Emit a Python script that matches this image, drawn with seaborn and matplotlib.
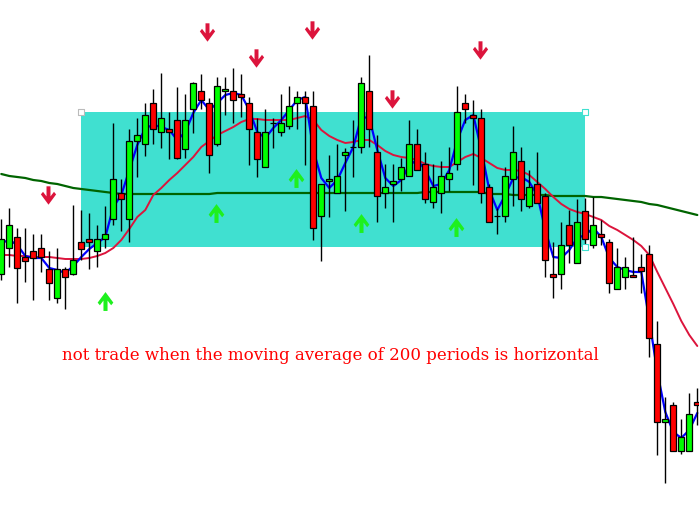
import numpy as np
import pandas as pd
import matplotlib
matplotlib.use("Agg")
import matplotlib.pyplot as plt
import seaborn as sns
from matplotlib.path import Path
from matplotlib.markers import MarkerStyle
from matplotlib.patches import Rectangle

# ---------------- data (price units) ----------------
opens = [238, 264, 275, 255, 261, 264, 243, 214, 243, 238, 270, 273, 261, 273, 293, 319,
         293, 371, 368, 409, 380, 383, 392, 363, 403, 421, 409, 368, 421, 421, 418, 409,
         380, 345, 389, 380, 386, 409, 415, 406, 296, 331, 319, 357, 365, 365, 421, 360,
         319, 328, 333, 336, 368, 348, 310, 319, 333, 348, 409, 397, 394, 325, 296, 296,
         333, 351, 306, 328, 316, 238, 238, 287, 249, 301, 267, 278, 270, 223, 235, 237,
         245, 258, 168, 90, 107, 61, 61, 110]
highs = [293, 304, 284, 284, 278, 278, 261, 264, 245, 307, 302, 299, 287, 306, 389, 333,
         383, 394, 409, 423, 439, 400, 425, 418, 430, 438, 414, 435, 435, 444, 438, 415,
         394, 403, 394, 418, 426, 421, 421, 421, 328, 357, 368, 364, 392, 435, 457, 377,
         348, 348, 354, 392, 383, 360, 348, 351, 365, 426, 418, 412, 403, 328, 304, 345,
         386, 365, 342, 360, 319, 270, 290, 302, 313, 314, 315, 292, 273, 264, 255, 275,
         258, 267, 191, 115, 110, 93, 119, 124]
lows = [232, 245, 209, 230, 212, 240, 212, 209, 203, 237, 252, 243, 245, 264, 287, 281,
        270, 335, 356, 368, 364, 353, 353, 354, 379, 403, 339, 366, 397, 389, 395, 347,
        335, 345, 364, 376, 383, 383, 347, 272, 251, 295, 319, 301, 335, 359, 365, 290,
        304, 290, 321, 336, 342, 309, 304, 299, 321, 342, 389, 327, 309, 290, 278, 290,
        306, 301, 304, 309, 235, 214, 223, 249, 249, 264, 264, 267, 219, 223, 223, 235,
        219, 155, 57, 29, 61, 58, 61, 87]
closes = [273, 287, 244, 251, 254, 255, 229, 243, 235, 252, 263, 270, 273, 278, 333, 313,
          371, 377, 397, 383, 394, 380, 354, 392, 429, 412, 357, 426, 423, 412, 415, 383,
          353, 380, 389, 389, 406, 415, 409, 284, 328, 333, 336, 360, 365, 429, 383, 316,
          325, 331, 345, 368, 342, 313, 325, 336, 339, 400, 403, 394, 319, 290, 296, 336,
          360, 313, 325, 309, 252, 235, 267, 267, 290, 273, 287, 275, 229, 245, 245, 235,
          241, 174, 90, 93, 61, 75, 98, 107]

ma_fast = [269, 272, 267, 256, 254, 254, 244, 242, 239, 246, 255, 263, 269, 275, 305, 317,
           342, 367, 384, 387, 385, 382, 372, 380, 399, 412, 402, 409, 417, 419, 417, 402,
           380, 374, 384, 392, 402, 412, 415, 362, 334, 324, 332, 349, 365, 395, 394, 362,
           334, 326, 332, 347, 352, 342, 326, 328, 342, 372, 392, 397, 362, 322, 302, 317,
           334, 335, 330, 317, 282, 255, 254, 262, 274, 277, 284, 275, 254, 245, 242, 240,
           240, 192, 140, 100, 80, 74, 82, 99]
ma_mid = [257, 257, 256, 256, 255, 255, 255, 254, 253, 253, 253, 254, 256, 259, 264, 272,
          283, 295, 302, 317, 324, 332, 339, 347, 355, 365, 371, 377, 381, 385, 390, 393,
          393, 392, 392, 392, 392, 394, 396, 392, 382, 376, 372, 369, 370, 372, 372, 367,
          361, 357, 355, 354, 352, 348, 346, 345, 345, 350, 355, 358, 354, 349, 344, 342,
          342, 341, 337, 330, 323, 315, 308, 303, 300, 298, 295, 292, 286, 282, 277, 272,
          266, 257, 240, 224, 208, 191, 177, 166]
ma_200 = ([338, 336, 335, 334, 332, 331, 329, 328, 326, 324, 323, 322, 321, 320, 319, 318]
          + [318] * 11 + [319] * 26 + [320] * 8
          + [318, 318, 318, 317, 317, 317, 317, 317, 316, 316, 316, 316, 316, 315, 315, 314,
             313, 312, 311, 310, 308, 307, 305, 303, 301, 299, 297])

zone_start, zone_end = 9.95, 72.95
zone_low, zone_high = 265, 400

sell_idx = [5.8, 25.7, 31.8, 38.8, 48.8, 59.8]
sell_price = [317, 480, 454, 482, 413, 462]
buy_idx = [12.95, 26.8, 36.8, 44.95, 56.8]
buy_price = [211, 299, 334, 289, 285]

note = "not trade when the moving average of 200 periods is horizontal"
note_idx, note_price = 41.1, 157

# ---------------- figure ----------------
sns.set_style("white")
W, H = 699, 512
fig = plt.figure(figsize=(W / 100, H / 100), dpi=100)
ax = fig.add_axes([0, 0, 1, 1])
ax.set_xlim(-0.1625, 87.2125)
ax.set_ylim(0, 512)
ax.axis("off")

idx = np.arange(len(opens))
df = pd.DataFrame({"i": idx, "open": opens, "high": highs, "low": lows, "close": closes,
                   "fast": ma_fast, "mid": ma_mid, "slow": ma_200})

# flat zone
ax.add_patch(Rectangle((zone_start, zone_low), zone_end - zone_start, zone_high - zone_low,
                       facecolor="#40E0D0", edgecolor="none", zorder=0))

# moving averages
sns.lineplot(data=df, x="i", y="slow", ax=ax, color="#006400", linewidth=1.6, zorder=2)
sns.lineplot(data=df, x="i", y="mid", ax=ax, color="#DC143C", linewidth=1.4, zorder=2)
sns.lineplot(data=df, x="i", y="fast", ax=ax, color="#0000FF", linewidth=1.6, zorder=2)

# candles
ax.vlines(df["i"], df["low"], df["high"], color="black", linewidth=1.0, zorder=3)
body = (df["close"] - df["open"]).to_numpy(dtype=float)
cols = np.where(body > 0, "#00FF00", "#FF0000")
body_h = np.where(body == 0, 0.01, body)
ax.bar(df["i"], body_h, bottom=df["open"], width=0.72, color=cols,
       edgecolor="black", linewidth=0.9, zorder=4)

# zone handles
ax.scatter([zone_start], [zone_high], marker="s", s=14, facecolor="white",
           edgecolor="#BBBBBB", linewidth=0.8, zorder=5)
ax.scatter([zone_end, zone_end], [zone_high, zone_low], marker="s", s=14, facecolor="white",
           edgecolor="#40E0D0", linewidth=0.8, zorder=5)

# arrow markers
sx = 0.83
down = [(-0.13, 0.5), (0.13, 0.5), (0.13, -0.05), (0.36, 0.2), (0.5, 0.06), (0, -0.5),
        (-0.5, 0.06), (-0.36, 0.2), (-0.13, -0.05), (-0.13, 0.5)]
down = [(x * sx, y) for x, y in down]
up = [(x, -y) for x, y in down]
codes = [Path.MOVETO] + [Path.LINETO] * (len(down) - 2) + [Path.CLOSEPOLY]
down_m = MarkerStyle(Path(down, codes))
up_m = MarkerStyle(Path(up, codes))
ax.scatter(sell_idx, sell_price, marker=down_m, s=175, color="#DC143C", linewidths=0, zorder=6)
ax.scatter(buy_idx, buy_price, marker=up_m, s=185, color="#1EF01E", linewidths=0, zorder=6)

# note
t = ax.text(note_idx, note_price, note, color="#FF0000", fontsize=12,
            family="DejaVu Serif", ha="center", va="center", zorder=7)
fig.canvas.draw()
bb = t.get_window_extent()
t.set_fontsize(12 * 536 / bb.width)

fig.savefig("out.png", dpi=100)
